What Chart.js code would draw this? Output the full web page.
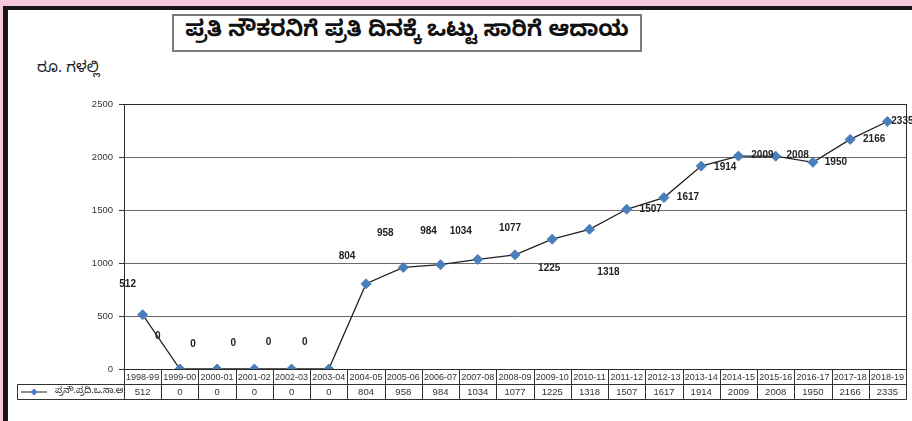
<!DOCTYPE html>
<html>
<head>
<meta charset="utf-8">
<script src="https://cdn.jsdelivr.net/npm/chart.js@4"></script>
<style>
  html, body { margin: 0; padding: 0; }
  body { width: 912px; height: 421px; background: #f8c9de; position: relative; overflow: hidden; font-family: 'Liberation Sans', Arial, sans-serif; }
  .frame { position: absolute; left: 3px; top: 6px; right: 0; bottom: 0; background: #fff; border-left: 5px solid #1b1616; border-top: 4px solid #1b1616; }
  .title { position: absolute; left: 172px; top: 14px; width: 466px; height: 34px; border: 2px solid #7a7a7a; background: #fff;
           font: bold 22px 'Noto Sans Kannada', 'Noto Sans', sans-serif; line-height: 34px; text-align: center; color: #111; }
  .unit { position: absolute; left: 37px; top: 60px; font: 15px 'Noto Sans Kannada', 'Noto Sans', sans-serif; color: #222; }
  #wrap { position: absolute; left: 0; top: 0; width: 912px; height: 421px; }
</style>
</head>
<body>
<div class="frame"></div>
<div class="title">ಪ್ರತಿ ನೌಕರನಿಗೆ ಪ್ರತಿ ದಿನಕ್ಕೆ ಒಟ್ಟು ಸಾರಿಗೆ ಆದಾಯ</div>
<div class="unit">ರೂ. ಗಳಲ್ಲಿ</div>
<div id="wrap"><canvas id="revChart" width="912" height="421"></canvas></div>
<script>
// ============================================================
// DATA
// ============================================================
const categories = ['1998-99','1999-00','2000-01','2001-02','2002-03','2003-04','2004-05','2005-06','2006-07',
  '2007-08','2008-09','2009-10','2010-11','2011-12','2012-13','2013-14','2014-15','2015-16','2016-17','2017-18','2018-19'];
const revenue    = [512, 0, 0, 0, 0, 0, 804, 958, 984, 1034, 1077, 1225, 1318, 1507, 1617, 1914, 2009, 2008, 1950, 2166, 2335];
const seriesName = 'ಪ್ರನೌ.ಪ್ರದಿ.ಒ.ಸಾ.ಆ.';
const yMax  = 2500;
const yStep = 500;

// label placement relative to each point (dx, dy) — style only
const labelShift = [[-15,-30],[-22,-33],[-24,-25],[-21,-26],[-23,-27],[-24,-27],[-19,-28],[-18,-34],[-12,-33],
  [-17,-28],[-5,-27],[-3,29],[19,43],[24,0],[24,0],[24,1],[24,-1],[22,-1],[23,0],[24,0],[15,0]];

const LINE_CLR  = '#222';
const POINT_CLR = '#4a7ebb';
const GRID_CLR  = '#6a6a6a';

// ============================================================
// PLUGINS
// ============================================================
const frameBorder = {
  id: 'frameBorder',
  beforeDatasetsDraw(chart) {
    const { ctx, chartArea: a } = chart;
    ctx.save();
    ctx.strokeStyle = '#2a2a2a';
    ctx.lineWidth = 1;
    ctx.strokeRect(Math.round(a.left) + 0.5, Math.round(a.top) + 0.5, Math.round(a.right - a.left), Math.round(a.bottom - a.top));
    ctx.restore();
  }
};

const pointLabels = {
  id: 'pointLabels',
  afterDatasetsDraw(chart) {
    const { ctx } = chart;
    const meta = chart.getDatasetMeta(0);
    ctx.save();
    ctx.font = 'bold 10px "Liberation Sans", Arial, sans-serif';
    ctx.fillStyle = '#222';
    ctx.textAlign = 'center';
    ctx.textBaseline = 'middle';
    meta.data.forEach((pt, i) => {
      const [dx, dy] = labelShift[i] || [0, -12];
      ctx.fillText(String(revenue[i]), pt.x + dx, pt.y + dy);
    });
    ctx.restore();
  }
};

const dataTable = {
  id: 'dataTable',
  afterDraw(chart) {
    const { ctx, chartArea: a, scales: { x } } = chart;
    const top = Math.round(a.bottom) + 0.5;
    const mid = top + 15;
    const bot = mid + 15;
    const legL = 17.5;
    const right = Math.round(a.right) + 0.5;

    // cell boundaries from the category scale
    const px = categories.map((c, i) => x.getPixelForValue(i));
    const bounds = [a.left];
    for (let i = 1; i < px.length; i++) bounds.push((px[i - 1] + px[i]) / 2);
    bounds.push(a.right);

    ctx.save();
    ctx.strokeStyle = '#333';
    ctx.lineWidth = 1;
    ctx.beginPath();
    ctx.moveTo(legL, mid); ctx.lineTo(right, mid);
    ctx.moveTo(legL, bot); ctx.lineTo(right, bot);
    ctx.moveTo(legL, mid); ctx.lineTo(legL, bot);
    bounds.forEach(b => {
      const bx = Math.round(b) + 0.5;
      ctx.moveTo(bx, top); ctx.lineTo(bx, bot);
    });
    ctx.stroke();

    ctx.fillStyle = '#333';
    ctx.textAlign = 'center';
    ctx.textBaseline = 'middle';
    ctx.font = '9px "Liberation Sans", Arial, sans-serif';
    categories.forEach((c, i) => ctx.fillText(c, px[i], top + 8));
    ctx.font = '9.5px "Liberation Sans", Arial, sans-serif';
    revenue.forEach((v, i) => ctx.fillText(String(v), px[i], mid + 8));

    // legend key
    const ly = mid + 7.5;
    ctx.strokeStyle = LINE_CLR;
    ctx.beginPath();
    ctx.moveTo(21, ly); ctx.lineTo(47, ly);
    ctx.stroke();
    ctx.fillStyle = POINT_CLR;
    ctx.beginPath();
    ctx.moveTo(34, ly - 3.5); ctx.lineTo(37.5, ly); ctx.lineTo(34, ly + 3.5); ctx.lineTo(30.5, ly);
    ctx.closePath();
    ctx.fill();
    ctx.fillStyle = '#222';
    ctx.textAlign = 'left';
    ctx.font = '9px "Noto Sans Kannada", "Noto Sans", sans-serif';
    ctx.fillText(seriesName, 55, ly + 0.5);
    ctx.restore();
  }
};

// ============================================================
// CHART
// ============================================================
new Chart(document.getElementById('revChart'), {
  type: 'line',
  data: {
    labels: categories,
    datasets: [{
      label: seriesName,
      data: revenue,
      borderColor: LINE_CLR,
      borderWidth: 1.3,
      tension: 0,
      pointStyle: 'rectRot',
      pointRadius: 5,
      pointBackgroundColor: POINT_CLR,
      pointBorderColor: POINT_CLR,
      pointBorderWidth: 1,
    }]
  },
  options: {
    responsive: false,
    animation: false,
    devicePixelRatio: 1,
    layout: { padding: { top: 104, right: 5, left: 0, bottom: 0 } },
    plugins: { legend: { display: false }, tooltip: { enabled: false } },
    scales: {
      x: {
        offset: true,
        grid: { display: false },
        ticks: { display: false },
        border: { display: false },
        afterFit: s => { s.height = 52; }
      },
      y: {
        min: 0, max: yMax,
        ticks: { stepSize: yStep, color: '#333', padding: 6, font: { family: 'Liberation Sans', size: 9.5 },
                 callback: v => String(v) },
        grid: { color: GRID_CLR, tickColor: '#333', tickLength: 5 },
        border: { display: true, color: '#222' },
        afterFit: s => { s.width = 124; }
      }
    }
  },
  plugins: [frameBorder, pointLabels, dataTable]
});
</script>
</body>
</html>
